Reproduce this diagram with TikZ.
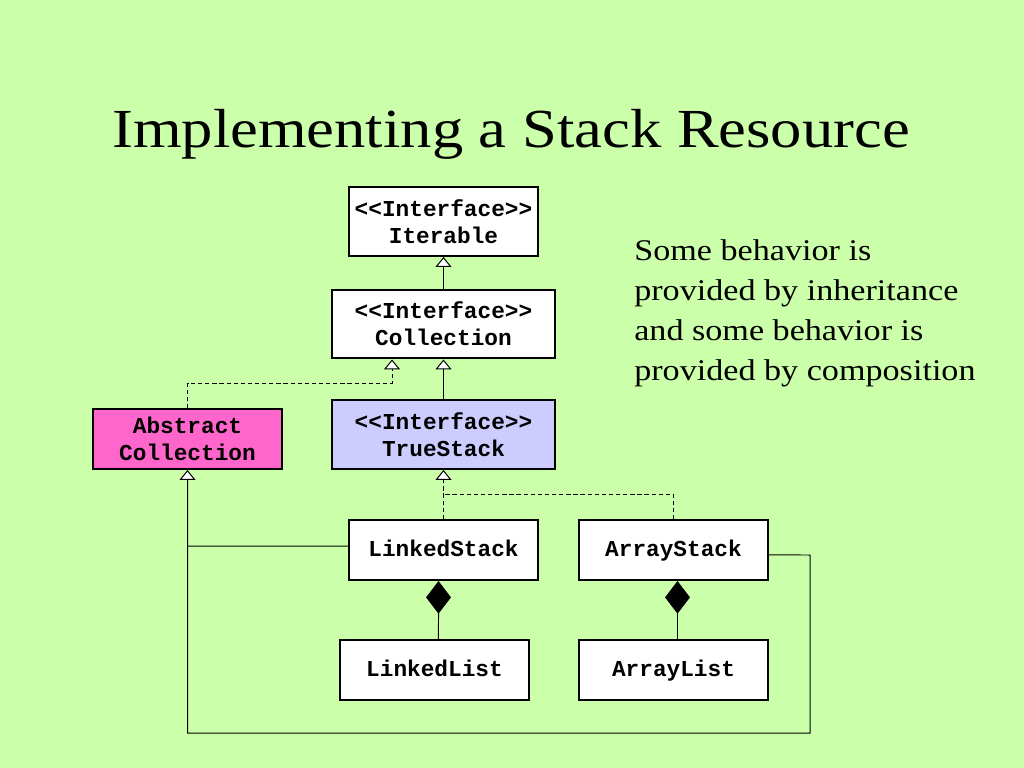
\documentclass[tikz,border=0pt]{standalone}
\usepackage{fontspec}
\usepackage{graphicx}
\setmainfont{Liberation Serif}
\newfontfamily\monofam{Liberation Mono}
\usetikzlibrary{arrows.meta}
\definecolor{bg}{RGB}{204,255,170}
\definecolor{pinkbox}{RGB}{255,102,204}
\definecolor{lavbox}{RGB}{204,204,255}
\tikzset{
  umlbox/.style={draw=black, line width=1.4pt, fill=white, inner sep=0pt,
    align=center, minimum width=132.9pt, minimum height=42.2pt,
    font=\monofam\bfseries\fontsize{16}{19}\selectfont},
  oneline/.style={text height=10.5pt, text depth=0.7pt},
  widebox/.style={minimum width=156.8pt},
  tallbox/.style={minimum height=48.5pt},
  conn/.style={draw=black, line width=0.7pt},
  inh/.style={conn, -{Triangle[width=11.25pt,length=7pt,fill=white]}},
  real/.style={inh, dash pattern=on 3pt off 2pt},
  dashline/.style={conn, dash pattern=on 3pt off 2pt},
  comp/.style={conn, -{Diamond[width=17.5pt,length=23pt]}}
}
\begin{document}
\begin{tikzpicture}[x=0.703125pt, y=-0.703125pt]
\fill[bg] (0,0) rectangle (1024,768);
\useasboundingbox (0,0) rectangle (1024,768);

\node[anchor=base, inner sep=0pt, font=\fontsize{44}{52}\selectfont] (title) at (511,148)
  {\scalebox{1}[0.88]{Implementing a Stack Resource}};

\node[anchor=north west, inner sep=0pt] (note) at (634,232)
  {\scalebox{1}[0.88]{\fontsize{24}{32}\selectfont\begin{tabular}{@{}l@{}}Some behavior is\\ provided by inheritance\\ and some behavior is\\ provided by composition\end{tabular}}};

\node[umlbox, tallbox] (it) at (443.5,221.5) {<<Interface>>\\Iterable};
\node[umlbox, widebox, tallbox] (col) at (443.5,324) {<<Interface>>\\Collection};
\node[umlbox, fill=pinkbox] (ac) at (187.5,439) {Abstract\\Collection};
\node[umlbox, widebox, tallbox, fill=lavbox] (ts) at (443.5,434.5) {<<Interface>>\\TrueStack};
\node[umlbox, oneline] (ls) at (443.5,550) {LinkedStack};
\node[umlbox, oneline] (as) at (673.5,550) {ArrayStack};
\node[umlbox, oneline] (ll) at (434.5,670) {LinkedList};
\node[umlbox, oneline] (al) at (673.5,670) {ArrayList};

\coordinate (j1) at (187.5,383);
\coordinate (j2) at (443.5,494);
\coordinate (j3) at (187.5,546);
\coordinate (c1) at (810,555);
\coordinate (c2) at (810,733);
\coordinate (c3) at (187.5,733);

\draw[inh] (col.north) -- (it.south);
\draw[inh] (ts.north) -- (col.south);
\draw[real] (ac.north) -- (j1) -| ([xshift=-36.2pt]col.south);
\draw[real] (ls.north) -- (ts.south);
\draw[dashline] (as.north) |- (j2);
\draw[conn] ([yshift=2.8pt]ls.west) -- (j3);
\draw[inh] ([yshift=-3.5pt]as.east) -- (c1) -- (c2) -- (c3) -- (ac.south);
\draw[comp] ([xshift=2.8pt]ll.north) -- ([xshift=-3.5pt]ls.south);
\draw[comp] ([xshift=2.8pt]al.north) -- ([xshift=2.8pt]as.south);
\end{tikzpicture}
\end{document}
